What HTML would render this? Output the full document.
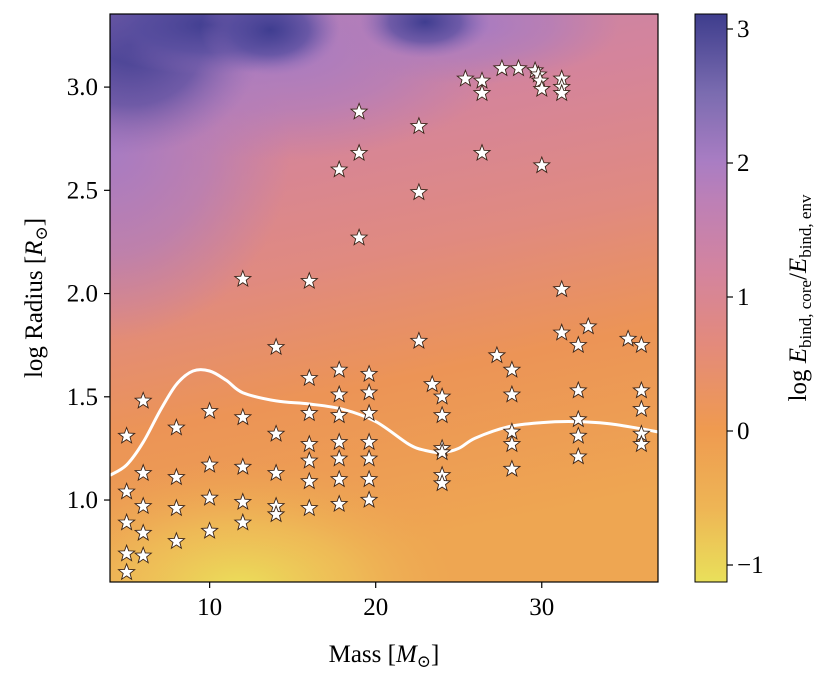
<!DOCTYPE html>
<html><head><meta charset="utf-8"><style>
body{margin:0;background:#fff;}
svg text{font-family:"Liberation Serif","DejaVu Serif",serif;fill:#000;}
</style></head><body>
<svg id="chart" width="830" height="682" viewBox="0 0 830 682" xmlns="http://www.w3.org/2000/svg">
<defs>
<linearGradient id="bg" x1="0" y1="0" x2="0.2" y2="1">
<stop offset="0" stop-color="#c283ac"/>
<stop offset="0.25" stop-color="#d4849c"/>
<stop offset="0.5" stop-color="#e08a80"/>
<stop offset="0.72" stop-color="#ec9456"/>
<stop offset="1" stop-color="#eea652"/>
</linearGradient>
<radialGradient id="purp" cx="0.5" cy="0.5" r="0.5">
<stop offset="0" stop-color="#a77bc2" stop-opacity="1"/>
<stop offset="0.55" stop-color="#ab7cc0" stop-opacity="0.6"/>
<stop offset="1" stop-color="#b07cba" stop-opacity="0"/>
</radialGradient>
<radialGradient id="dark" cx="0.5" cy="0.5" r="0.5">
<stop offset="0" stop-color="#3f3d90" stop-opacity="1"/>
<stop offset="0.55" stop-color="#5a4fa0" stop-opacity="0.75"/>
<stop offset="1" stop-color="#8a6ab5" stop-opacity="0"/>
</radialGradient>
<radialGradient id="yel" cx="0.5" cy="0.5" r="0.5">
<stop offset="0" stop-color="#ebe05a" stop-opacity="1"/>
<stop offset="0.5" stop-color="#eec358" stop-opacity="0.7"/>
<stop offset="1" stop-color="#eea652" stop-opacity="0"/>
</radialGradient>
<linearGradient id="cb" x1="0" y1="1" x2="0" y2="0">
<stop offset="0" stop-color="#e9e05a"/>
<stop offset="0.13" stop-color="#eeb555"/>
<stop offset="0.27" stop-color="#ef9a50"/>
<stop offset="0.42" stop-color="#e38a7c"/>
<stop offset="0.55" stop-color="#d3849f"/>
<stop offset="0.67" stop-color="#bd80b6"/>
<stop offset="0.74" stop-color="#a97dc3"/>
<stop offset="0.86" stop-color="#7b6cb0"/>
<stop offset="1" stop-color="#3e3d8d"/>
</linearGradient>
<clipPath id="plotclip"><rect x="110" y="14" width="548" height="568"/></clipPath>
</defs>
<g clip-path="url(#plotclip)">
<rect x="110" y="14" width="548" height="568" fill="url(#bg)"/>
<ellipse cx="110" cy="150" rx="180" ry="190" fill="url(#purp)"/>
<ellipse cx="280" cy="50" rx="230" ry="110" fill="url(#purp)"/>
<ellipse cx="470" cy="25" rx="150" ry="60" fill="url(#purp)"/>
<ellipse cx="130" cy="45" rx="130" ry="110" fill="url(#dark)"/>
<ellipse cx="210" cy="25" rx="130" ry="50" fill="url(#dark)"/>
<ellipse cx="270" cy="30" rx="70" ry="45" fill="url(#dark)"/>
<ellipse cx="425" cy="22" rx="65" ry="36" fill="url(#dark)"/>
<ellipse cx="240" cy="590" rx="230" ry="130" fill="url(#yel)"/>
</g>
<g id="marks" clip-path="url(#plotclip)"></g>
<rect x="110" y="14" width="548" height="568" fill="none" stroke="#000" stroke-width="1.2"/>
<g id="axes"></g>
<rect x="695" y="14" width="32" height="568" fill="url(#cb)" stroke="#000" stroke-width="1"/>
<text x="384" y="662" font-size="25" text-anchor="middle">Mass [<tspan font-style="italic">M</tspan><tspan font-size="17" dy="5">⊙</tspan><tspan dy="-5">]</tspan></text>
<text transform="translate(42,298) rotate(-90)" font-size="25" text-anchor="middle">log Radius [<tspan font-style="italic">R</tspan><tspan font-size="17" dy="5">⊙</tspan><tspan dy="-5">]</tspan></text>
<text transform="translate(806,298) rotate(-90)" font-size="25" text-anchor="middle">log <tspan font-style="italic">E</tspan><tspan font-size="17" dy="5">bind, core</tspan><tspan dy="-5">/</tspan><tspan font-style="italic">E</tspan><tspan font-size="17" dy="5">bind, env</tspan></text>
</svg>
<script>
const xTicks=[10,20,30];
const yTicks=[1.0,1.5,2.0,2.5,3.0];
const cTicks=[-1,0,1,2,3];
const starMass=[5,5,5,5,5,6,6,6,6,6,8,8,8,8,10,10,10,10,12,12,12,12,12,14,14,14,14,14,16,16,16,16,16,16,16,17.8,17.8,17.8,17.8,17.8,17.8,17.8,17.8,19,19,19,19.6,19.6,19.6,19.6,19.6,19.6,19.6,22.6,22.6,22.6,23.4,24,24,24,24,24,24,25.4,26.4,26.4,26.4,27.3,27.6,28.2,28.2,28.2,28.2,28.2,28.6,29.6,29.8,29.9,30,30,31.2,31.2,31.2,31.2,31.2,32.2,32.2,32.2,32.2,32.2,32.8,35.2,36,36,36,36,36];
const starLogR=[1.31,1.04,0.89,0.74,0.65,1.48,1.13,0.97,0.84,0.73,1.35,1.11,0.96,0.80,1.43,1.17,1.01,0.85,2.07,1.40,1.16,0.99,0.89,1.74,1.32,1.13,0.97,0.93,2.06,1.59,1.42,1.27,1.19,1.09,0.96,2.60,1.63,1.51,1.41,1.28,1.20,1.10,0.98,2.88,2.68,2.27,1.61,1.52,1.42,1.28,1.20,1.10,1.00,2.81,2.49,1.77,1.56,1.50,1.41,1.25,1.23,1.12,1.08,3.04,3.03,2.97,2.68,1.70,3.09,1.63,1.51,1.33,1.27,1.15,3.09,3.08,3.06,3.03,2.99,2.62,3.04,3.00,2.97,2.02,1.81,1.75,1.53,1.39,1.31,1.21,1.84,1.78,1.75,1.53,1.44,1.32,1.27];
const lineMass=[4,5,6,7,8,9,10,11,12,14,16,18,20,22,23,24,25,26,28,30,32,34,36,37];
const lineLogR=[1.12,1.17,1.28,1.43,1.56,1.625,1.625,1.58,1.52,1.48,1.465,1.44,1.38,1.27,1.24,1.23,1.25,1.30,1.355,1.375,1.38,1.37,1.345,1.33];
const NS="http://www.w3.org/2000/svg";
const X=m=>110+(m-4)*548/33;
const Y=r=>14+(3.354-r)*568/(3.354-0.603);
const C=v=>29+(3-v)*134;
function mk(tag,attrs,parent){const e=document.createElementNS(NS,tag);for(const k in attrs)e.setAttribute(k,attrs[k]);parent.appendChild(e);return e;}
const marks=document.getElementById('marks'),axes=document.getElementById('axes');
const P=lineMass.map((m,i)=>[X(m),Y(lineLogR[i])]);
let d='M'+P[0][0].toFixed(1)+' '+P[0][1].toFixed(1);
for(let i=0;i<P.length-1;i++){const p0=P[Math.max(0,i-1)],p1=P[i],p2=P[i+1],p3=P[Math.min(P.length-1,i+2)];
const c1=[p1[0]+(p2[0]-p0[0])/6,p1[1]+(p2[1]-p0[1])/6],c2=[p2[0]-(p3[0]-p1[0])/6,p2[1]-(p3[1]-p1[1])/6];
d+=' C'+c1.map(v=>v.toFixed(1)).join(' ')+' '+c2.map(v=>v.toFixed(1)).join(' ')+' '+p2.map(v=>v.toFixed(1)).join(' ');}
const ln=mk('path',{d:d,fill:'none',stroke:'#fff','stroke-width':3,'stroke-linejoin':'round'},marks);


function starPath(cx,cy,R){let p='';for(let i=0;i<10;i++){const r=i%2?R*0.42:R;const a=-Math.PI/2+i*Math.PI/5;p+=(i?'L':'M')+(cx+r*Math.cos(a)).toFixed(1)+' '+(cy+r*Math.sin(a)).toFixed(1);}return p+'Z';}
starMass.forEach((m,i)=>{
const s=mk('path',{d:starPath(X(m),Y(starLogR[i]),8.5),fill:'#fff',stroke:'#3a2418','stroke-width':0.9},marks);


});
xTicks.forEach(t=>{
const l=mk('line',{x1:X(t),x2:X(t),y1:582,y2:588,stroke:'#000','stroke-width':1.2},axes);


const tx=mk('text',{x:X(t),y:615,'font-size':25,'text-anchor':'middle'},axes);tx.textContent=t;


});
yTicks.forEach(t=>{
const l=mk('line',{x1:104,x2:110,y1:Y(t),y2:Y(t),stroke:'#000','stroke-width':1.2},axes);


const tx=mk('text',{x:98,y:Y(t)+8,'font-size':25,'text-anchor':'end'},axes);tx.textContent=t.toFixed(1);


});
cTicks.forEach(t=>{
const l=mk('line',{x1:727,x2:733,y1:C(t),y2:C(t),stroke:'#000','stroke-width':1.2},axes);


const tx=mk('text',{x:737,y:C(t)+8,'font-size':25},axes);tx.textContent=t<0?'\u2212'+Math.abs(t):t;


});
</script>
</body></html>
